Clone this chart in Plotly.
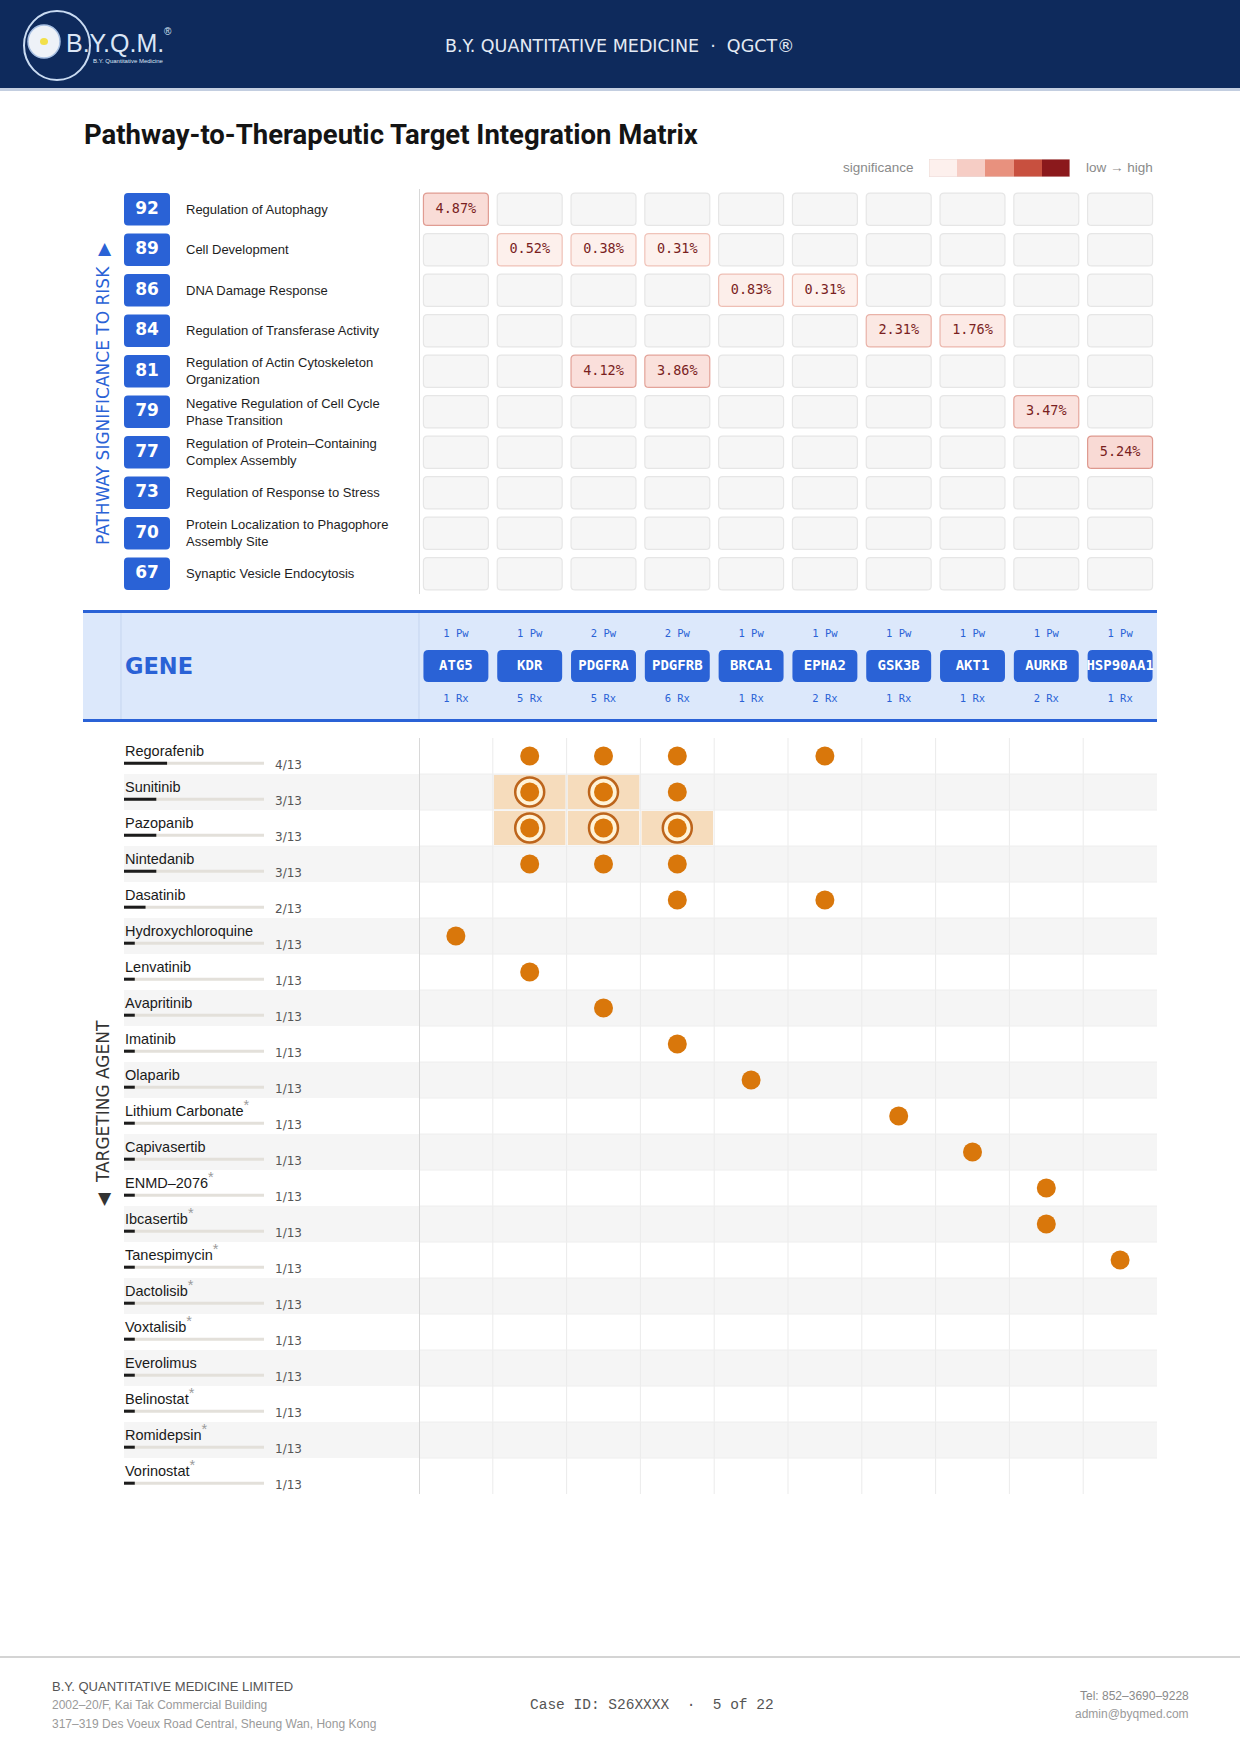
import plotly.graph_objects as go

W, H = 1240, 1754

# ---------------- data ----------------
genes = ["ATG5", "KDR", "PDGFRA", "PDGFRB", "BRCA1", "EPHA2", "GSK3B", "AKT1", "AURKB", "HSP90AA1"]

pathway_scores = [92, 89, 86, 84, 81, 79, 77, 73, 70, 67]
pathway_names = [
    "Regulation of Autophagy",
    "Cell Development",
    "DNA Damage Response",
    "Regulation of Transferase Activity",
    "Regulation of Actin Cytoskeleton<br>Organization",
    "Negative Regulation of Cell Cycle<br>Phase Transition",
    "Regulation of Protein–Containing<br>Complex Assembly",
    "Regulation of Response to Stress",
    "Protein Localization to Phagophore<br>Assembly Site",
    "Synaptic Vesicle Endocytosis",
]
# significance (%) of each gene within each pathway
pathway_links = [
    {"ATG5": 4.87},
    {"KDR": 0.52, "PDGFRA": 0.38, "PDGFRB": 0.31},
    {"BRCA1": 0.83, "EPHA2": 0.31},
    {"GSK3B": 2.31, "AKT1": 1.76},
    {"PDGFRA": 4.12, "PDGFRB": 3.86},
    {"AURKB": 3.47},
    {"HSP90AA1": 5.24},
    {},
    {},
    {},
]

drug_names = ["Regorafenib", "Sunitinib", "Pazopanib", "Nintedanib", "Dasatinib",
              "Hydroxychloroquine", "Lenvatinib", "Avapritinib", "Imatinib", "Olaparib",
              "Lithium Carbonate", "Capivasertib", "ENMD–2076", "Ibcasertib", "Tanespimycin",
              "Dactolisib", "Voxtalisib", "Everolimus", "Belinostat", "Romidepsin", "Vorinostat"]
drug_novel = [False, False, False, False, False, False, False, False, False, False,
              True, False, True, True, True, True, True, False, True, True, True]
drug_hits = [4, 3, 3, 3, 2, 1, 1, 1, 1, 1, 1, 1, 1, 1, 1, 1, 1, 1, 1, 1, 1]
drug_total = 13
drug_targets = [
    ["KDR", "PDGFRA", "PDGFRB", "EPHA2"],
    ["KDR", "PDGFRA", "PDGFRB"],
    ["KDR", "PDGFRA", "PDGFRB"],
    ["KDR", "PDGFRA", "PDGFRB"],
    ["PDGFRB", "EPHA2"],
    ["ATG5"],
    ["KDR"],
    ["PDGFRA"],
    ["PDGFRB"],
    ["BRCA1"],
    ["GSK3B"],
    ["AKT1"],
    ["AURKB"],
    ["AURKB"],
    ["HSP90AA1"],
    [], [], [], [], [], [],
]
drug_highlight = [
    [], ["KDR", "PDGFRA"], ["KDR", "PDGFRA", "PDGFRB"], [], [], [], [], [], [], [],
    [], [], [], [], [], [], [], [], [], [], [],
]

legend_colors = ["#fdf0ed", "#f6cdc5", "#e8917e", "#c8503f", "#8b191c"]

gene_pw = [sum(1 for row in pathway_links if g in row) for g in genes]
gene_rx = [sum(1 for t in drug_targets if g in t) for g in genes]

# ---------------- layout constants (pixels) ----------------
X_MAT0, X_MAT1 = 419, 1157
Y_PW0, Y_PW1 = 189, 594
Y_BAND0, Y_BAND1 = 610, 722
Y_DR0, Y_DR1 = 738, 1494
BLUE = "#2a62d6"
ORANGE = "#d9770b"
COL_PX = (X_MAT1 - X_MAT0) / len(genes)
PW_ROW_PX = (Y_PW1 - Y_PW0) / len(pathway_scores)
DR_ROW_PX = (Y_DR1 - Y_DR0) / len(drug_names)


def px(x):
    return x / W


def py(y):
    return 1 - y / H


def rrect(x0, x1, y0, y1, rx, ry):
    f = lambda v: f"{v:.4f}"
    return (f"M{f(x0+rx)},{f(y0)} L{f(x1-rx)},{f(y0)} Q{f(x1)},{f(y0)} {f(x1)},{f(y0+ry)} "
            f"L{f(x1)},{f(y1-ry)} Q{f(x1)},{f(y1)} {f(x1-rx)},{f(y1)} L{f(x0+rx)},{f(y1)} "
            f"Q{f(x0)},{f(y1)} {f(x0)},{f(y1-ry)} L{f(x0)},{f(y0+ry)} Q{f(x0)},{f(y0)} {f(x0+rx)},{f(y0)} Z")


def mix(c0, c1, t):
    t = max(0.0, min(1.0, t))
    return "rgb(%d,%d,%d)" % tuple(round(a + (b - a) * t) for a, b in zip(c0, c1))


shapes = []
annotations = []


def ann(text, x, y, xref="paper", yref="paper", xanchor="center", size=12, color="#222",
        family="Liberation Sans", **kw):
    d = dict(text=text, x=x, y=y, xref=xref, yref=yref, xanchor=xanchor, yanchor="middle",
             showarrow=False, font=dict(family=family, size=size, color=color))
    d.update(kw)
    annotations.append(d)


fig = go.Figure()

# ---------------- header ----------------
shapes.append(dict(type="rect", xref="paper", yref="paper", x0=0, x1=1, y0=py(88), y1=1,
                   fillcolor="#0e2a5c", line_width=0, layer="below"))
shapes.append(dict(type="rect", xref="paper", yref="paper", x0=0, x1=1, y0=py(91), y1=py(88),
                   fillcolor="#c3cee0", line_width=0, layer="below"))
ann("B.Y. QUANTITATIVE MEDICINE  ·  QGCT®", 0.5, py(46), size=17.5, color="#e4eaf4", family="DejaVu Sans")
# logo
shapes.append(dict(type="circle", xref="paper", yref="paper", x0=px(24), x1=px(90), y0=py(80), y1=py(11),
                   line=dict(color="#c9dbf2", width=2), fillcolor="rgba(0,0,0,0)"))
shapes.append(dict(type="circle", xref="paper", yref="paper", x0=px(28), x1=px(60), y0=py(58), y1=py(25),
                   line=dict(color="#a9c1e3", width=1.5), fillcolor="#eef2f8"))
shapes.append(dict(type="circle", xref="paper", yref="paper", x0=px(40), x1=px(48), y0=py(45), y1=py(38),
                   line_width=0, fillcolor="#f2e04a"))
ann("B.Y.Q.M.", px(64), py(43), xanchor="left", size=25, color="#dbe6f6")
ann("®", px(162), py(32), xanchor="left", size=10, color="#dbe6f6")
ann("B.Y. Quantitative Medicine", px(91), py(61), xanchor="left", size=6, color="#dbe6f6")

# ---------------- title + legend ----------------
ann("<b>Pathway-to-Therapeutic Target Integration Matrix</b>", px(82), py(135), xanchor="left",
    size=27.5, color="#141414", family="Roboto")
ann("significance", px(916), py(168), xanchor="right", size=13.5, color="#8a8a8a")
ann("low → high", px(1084), py(168), xanchor="left", size=13.5, color="#8a8a8a")
n_leg = len(legend_colors)
fig.add_trace(go.Heatmap(z=[list(range(n_leg))], x=list(range(n_leg)), y=[0],
                         colorscale=[[i / (n_leg - 1), c] for i, c in enumerate(legend_colors)],
                         showscale=False, xaxis="x3", yaxis="y4", hoverinfo="skip"))
shapes.append(dict(type="rect", xref="x3", yref="y4", x0=-0.5, x1=n_leg - 0.5, y0=-0.5, y1=0.5,
                   line=dict(color="#ebd9d6", width=1), fillcolor="rgba(0,0,0,0)"))

# ---------------- side labels ----------------
ann("PATHWAY SIGNIFICANCE TO RISK  ▶", px(103), py(394), textangle=-90, size=17, color=BLUE,
    family="DejaVu Sans")
ann("◀  TARGETING AGENT", px(103), py(1113), textangle=-90, size=17, color="#333333",
    family="DejaVu Sans")

# ---------------- pathway section ----------------
hw, hh = 0.44, 0.40
rx_c, ry_c = 4 / COL_PX, 4 / PW_ROW_PX
cell_x, cell_y, cell_t = [], [], []
for r, links in enumerate(pathway_links):
    for c, g in enumerate(genes):
        v = links.get(g)
        if v is None:
            fill, line = "#f6f6f6", "#e6e6e6"
        else:
            t = v / 5.3
            fill = mix((253, 242, 238), (249, 218, 213), t)
            line = mix((241, 198, 188), (222, 152, 142), t)
            cell_x.append(c)
            cell_y.append(r)
            cell_t.append(f"{v:.2f}%")
        shapes.append(dict(type="path", xref="x", yref="y", layer="below",
                           path=rrect(c - hw, c + hw, r - hh, r + hh, rx_c, ry_c),
                           fillcolor=fill, line=dict(color=line, width=1.2)))
fig.add_trace(go.Scatter(x=cell_x, y=cell_y, text=cell_t, mode="text", xaxis="x", yaxis="y",
                         textfont=dict(family="DejaVu Sans Mono", size=13.5, color="#7a1f1f"),
                         hoverinfo="skip"))
# score badges
for r, s in enumerate(pathway_scores):
    shapes.append(dict(type="path", xref="x2", yref="y", layer="below",
                       path=rrect(124, 170, r - 0.4, r + 0.4, 4, 4 / PW_ROW_PX),
                       fillcolor=BLUE, line_width=0))
    ann(pathway_names[r], 184, r, xref="x2", yref="y", xanchor="left", align="left", size=13,
        color="#1e1e1e")
fig.add_trace(go.Scatter(x=[147] * len(pathway_scores), y=list(range(len(pathway_scores))),
                         text=[str(s) for s in pathway_scores], mode="text", xaxis="x2", yaxis="y",
                         textfont=dict(family="DejaVu Sans", size=17, color="white", weight="bold"),
                         hoverinfo="skip"))
shapes.append(dict(type="line", xref="x", yref="y", x0=-0.5, x1=-0.5, y0=-0.5, y1=len(pathway_scores) - 0.5,
                   line=dict(color="#d8d8d8", width=2)))

# ---------------- gene band ----------------
shapes.append(dict(type="rect", xref="paper", yref="y3", x0=px(83), x1=px(X_MAT1), y0=Y_BAND0, y1=Y_BAND1,
                   fillcolor="#dce8fb", line_width=0, layer="below"))
for yy in (Y_BAND0 + 1.5, Y_BAND1 - 1.5):
    shapes.append(dict(type="line", xref="paper", yref="y3", x0=px(83), x1=px(X_MAT1), y0=yy, y1=yy,
                       line=dict(color=BLUE, width=3)))
for xx in (121, X_MAT0):
    shapes.append(dict(type="line", xref="paper", yref="y3", x0=px(xx), x1=px(xx), y0=Y_BAND0 + 3,
                       y1=Y_BAND1 - 3, line=dict(color="#c5d5ef", width=1)))
ann("<b>GENE</b>", px(123), 666, yref="y3", xanchor="left", size=22.5, color=BLUE, family="DejaVu Sans")
for c, g in enumerate(genes):
    shapes.append(dict(type="path", xref="x", yref="y3", layer="below",
                       path=rrect(c - 0.44, c + 0.44, 650, 682, 5 / COL_PX, 5),
                       fillcolor=BLUE, line_width=0))
idx = list(range(len(genes)))
fig.add_trace(go.Scatter(x=idx, y=[666] * len(genes), text=genes, mode="text", xaxis="x", yaxis="y3",
                         textfont=dict(family="DejaVu Sans Mono", size=14, color="white", weight="bold"),
                         cliponaxis=True, hoverinfo="skip"))
fig.add_trace(go.Scatter(x=idx, y=[634] * len(genes), text=[f"{n} Pw" for n in gene_pw], mode="text",
                         xaxis="x", yaxis="y3",
                         textfont=dict(family="DejaVu Sans Mono", size=10.5, color=BLUE), hoverinfo="skip"))
fig.add_trace(go.Scatter(x=idx, y=[699] * len(genes), text=[f"{n} Rx" for n in gene_rx], mode="text",
                         xaxis="x", yaxis="y3",
                         textfont=dict(family="DejaVu Sans Mono", size=10.5, color=BLUE), hoverinfo="skip"))

# ---------------- drug section ----------------
nd = len(drug_names)
for i in range(nd):
    if i % 2 == 1:
        shapes.append(dict(type="rect", xref="paper", yref="y2", x0=px(124), x1=px(X_MAT1),
                           y0=i - 0.5, y1=i + 0.5, fillcolor="#f5f5f5", line_width=0, layer="below"))
    for g in drug_highlight[i]:
        c = genes.index(g)
        shapes.append(dict(type="rect", xref="x", yref="y2", x0=c - 0.5 + 0.015, x1=c + 0.5 - 0.015,
                           y0=i - 0.5 + 0.03, y1=i + 0.5 - 0.03, fillcolor="#f6dcbc", line_width=0,
                           layer="below"))
for k in range(1, len(genes)):
    shapes.append(dict(type="line", xref="x", yref="y2", x0=k - 0.5, x1=k - 0.5, y0=-0.5, y1=nd - 0.5,
                       line=dict(color="#ebebeb", width=1), layer="below"))
for i in range(nd - 1):
    shapes.append(dict(type="line", xref="x", yref="y2", x0=-0.5, x1=len(genes) - 0.5, y0=i + 0.5,
                       y1=i + 0.5, line=dict(color="#eeeeee", width=1), layer="below"))
shapes.append(dict(type="line", xref="x", yref="y2", x0=-0.5, x1=-0.5, y0=-0.5, y1=nd - 0.5,
                   line=dict(color="#d8d8d8", width=2)))

# coverage bars
BAR0, BARW = 124, 140
ys_bar = [i + 0.2 for i in range(nd)]
fig.add_trace(go.Bar(x=[BARW] * nd, y=ys_bar, base=[BAR0] * nd, orientation="h", width=3 / DR_ROW_PX,
                     marker=dict(color="#e3e0da", line_width=0), xaxis="x2", yaxis="y2", hoverinfo="skip"))
fig.add_trace(go.Bar(x=[BARW * n / drug_total for n in drug_hits], y=ys_bar, base=[BAR0] * nd,
                     orientation="h", width=3 / DR_ROW_PX,
                     marker=dict(color="#1c1c1c", line_width=0), xaxis="x2", yaxis="y2", hoverinfo="skip"))
for i, name in enumerate(drug_names):
    if drug_novel[i]:
        label = name + "<span style='font-size:14.5px;fill:#9a9a9a;baseline-shift:6px'>*</span>"
        ylab = i - 0.15 - 2.5 / DR_ROW_PX
    else:
        label = name
        ylab = i - 0.15
    ann(label, 123, ylab, xref="x2", yref="y2", xanchor="left", size=14.5, color="#1a1a1a")
    ann(f"{drug_hits[i]}/{drug_total}", 273, i + 0.24, xref="x2", yref="y2", xanchor="left", size=12,
        color="#555555", family="DejaVu Sans")

# dots
ring_x, ring_y, dot_x, dot_y = [], [], [], []
for i, tg in enumerate(drug_targets):
    for g in tg:
        c = genes.index(g)
        dot_x.append(c)
        dot_y.append(i)
        if g in drug_highlight[i]:
            ring_x.append(c)
            ring_y.append(i)
fig.add_trace(go.Scatter(x=ring_x, y=ring_y, mode="markers", xaxis="x", yaxis="y2",
                         marker=dict(size=29, color="#fff3d8", line=dict(color="#bd651c", width=2.5)),
                         hoverinfo="skip"))
fig.add_trace(go.Scatter(x=dot_x, y=dot_y, mode="markers", xaxis="x", yaxis="y2",
                         marker=dict(size=19, color=ORANGE, line_width=0), hoverinfo="skip"))

# ---------------- footer ----------------
shapes.append(dict(type="line", xref="paper", yref="paper", x0=0, x1=1, y0=py(1657), y1=py(1657),
                   line=dict(color="#d4d4d4", width=2)))
foot = [
    ("B.Y. QUANTITATIVE MEDICINE LIMITED", 50, 1686, "left", 13, "#555555", "Liberation Sans"),
    ("2002–20/F, Kai Tak Commercial Building", 50, 1705, "left", 12, "#9a9a9a", "Liberation Sans"),
    ("317–319 Des Voeux Road Central, Sheung Wan, Hong Kong", 50, 1724, "left", 12, "#9a9a9a", "Liberation Sans"),
    ("Case ID: S26XXXX  ·  5 of 22", 652, 1705, "center", 14.5, "#555555", "Liberation Mono"),
    ("Tel: 852–3690–9228", 1191, 1696, "right", 12, "#8a8a8a", "Liberation Sans"),
    ("admin@byqmed.com", 1191, 1714, "right", 12, "#9a9a9a", "Liberation Sans"),
]
for t, x, y, anc, sz, col, fam in foot:
    ann(t, px(x), py(y), xanchor=anc, size=sz, color=col, family=fam)

hidden = dict(visible=False, fixedrange=True, showgrid=False, zeroline=False)
fig.update_layout(
    width=W, height=H, margin=dict(l=0, r=0, t=0, b=0), paper_bgcolor="white", plot_bgcolor="rgba(0,0,0,0)",
    showlegend=False, barmode="overlay", shapes=shapes, annotations=annotations,
    xaxis=dict(domain=[px(X_MAT0), px(X_MAT1)], range=[-0.5, len(genes) - 0.5], **hidden),
    xaxis2=dict(domain=[0, px(X_MAT0)], range=[0, X_MAT0], **hidden),
    xaxis3=dict(domain=[px(929), px(1070)], range=[-0.5, n_leg - 0.5], **hidden),
    yaxis=dict(domain=[py(Y_PW1), py(Y_PW0)], range=[len(pathway_scores) - 0.5, -0.5], **hidden),
    yaxis2=dict(domain=[py(Y_DR1), py(Y_DR0)], range=[nd - 0.5, -0.5], **hidden),
    yaxis3=dict(domain=[py(Y_BAND1), py(Y_BAND0)], range=[Y_BAND1, Y_BAND0], **hidden),
    yaxis4=dict(domain=[py(177), py(159)], range=[-0.5, 0.5], **hidden),
)

fig.write_html("out.html", config={"displayModeBar": False},
               post_script="document.body.style.margin='0';")
